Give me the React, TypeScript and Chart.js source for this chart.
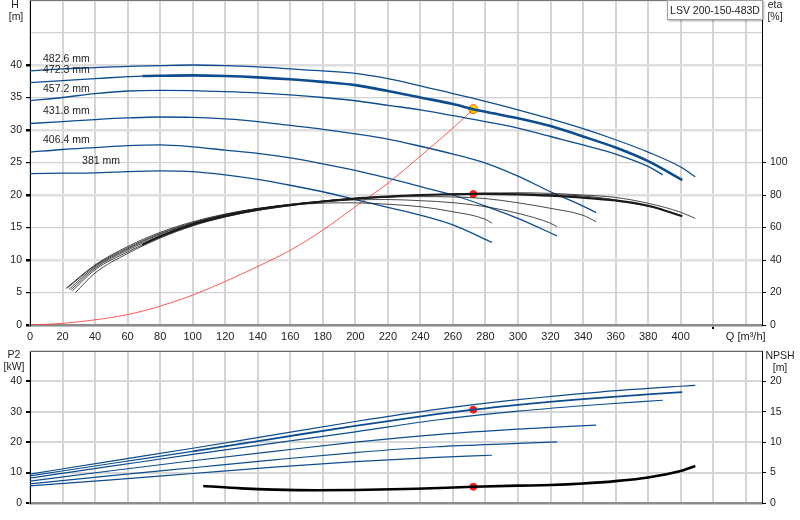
import { useEffect, useRef } from "react";
import { Chart, registerables } from "chart.js";

Chart.register(...registerables);

const FONT = '"Liberation Sans", Arial, sans-serif';
const TEXT = "#222";
const BLUE = "#0d4d8f";
const RED_LINE = "rgba(255, 60, 60, 0.85)";

// axes
const Q_TICKS = [0, 20, 40, 60, 80, 100, 120, 140, 160, 180, 200, 220, 240, 260, 280, 300, 320, 340, 360, 380, 400, 420, 440];
const Q_TICK_LABELS = ["0", "20", "40", "60", "80", "100", "120", "140", "160", "180", "200", "220", "240", "260", "280", "300", "320", "340", "360", "380", "400", "", "Q [m³/h]"];
const H_TICKS = [0, 5, 10, 15, 20, 25, 30, 35, 40, 45, 50];
const H_TICK_LABELS = ["0", "5", "10", "15", "20", "25", "30", "35", "40", "", ""];
const ETA_TICKS = [0, 20, 40, 60, 80, 100];
const P2_TICKS = [0, 10, 20, 30, 40, 50];
const P2_TICK_LABELS = ["0", "10", "20", "30", "40", ""];
const NPSH_TICKS = [0, 5, 10, 15, 20];

const DIAMETERS = ["482.6 mm", "472.3 mm", "457.2 mm", "431.8 mm", "406.4 mm", "381 mm"];
const SELECTED = 1; // 472.3 mm
const THICK_FROM_Q = 69;

// H [m] vs Q [m3/h]
const H_4826: [number, number][] = [[0, 39.1], [20, 39.4], [40, 39.6], [60, 39.8], [80, 39.9], [100, 40.0], [120, 39.9], [140, 39.7], [160, 39.4], [180, 39.1], [200, 38.7], [220, 37.9], [240, 36.8], [260, 35.6], [280, 34.4], [300, 33.1], [320, 31.7], [340, 30.2], [360, 28.5], [380, 26.6], [400, 24.3], [409, 22.8]];
const H_4723: [number, number][] = [[0, 37.3], [20, 37.6], [40, 37.9], [60, 38.2], [69, 38.3], [80, 38.35], [100, 38.4], [120, 38.3], [140, 38.1], [160, 37.8], [180, 37.4], [200, 36.9], [220, 36.0], [240, 35.0], [260, 34.0], [272.5, 33.2], [280, 32.8], [300, 31.8], [320, 30.6], [340, 29.0], [360, 27.3], [380, 25.2], [401, 22.3]];
const H_4572: [number, number][] = [[0, 34.5], [20, 35.0], [40, 35.6], [60, 36.0], [80, 36.1], [100, 36.05], [120, 35.9], [140, 35.7], [160, 35.4], [180, 35.0], [200, 34.5], [220, 33.8], [240, 33.1], [260, 32.2], [280, 31.3], [300, 30.3], [320, 29.0], [340, 27.7], [360, 26.3], [380, 24.4], [389, 23.1]];
const H_4318: [number, number][] = [[0, 31.0], [20, 31.3], [40, 31.6], [60, 31.85], [80, 32.0], [100, 31.95], [120, 31.7], [140, 31.3], [160, 30.7], [180, 30.1], [200, 29.4], [220, 28.6], [240, 27.5], [260, 26.3], [280, 24.9], [300, 22.9], [320, 20.5], [340, 18.3], [348, 17.3]];
const H_4064: [number, number][] = [[0, 26.6], [20, 27.0], [40, 27.3], [60, 27.6], [80, 27.7], [100, 27.4], [120, 26.9], [140, 26.4], [160, 25.7], [180, 24.8], [200, 23.8], [220, 22.6], [240, 21.3], [260, 20.0], [280, 18.3], [300, 16.4], [324, 13.7]];
const H_381: [number, number][] = [[0, 23.3], [20, 23.35], [40, 23.4], [60, 23.6], [80, 23.7], [100, 23.6], [120, 23.1], [140, 22.4], [160, 21.5], [180, 20.5], [200, 19.3], [220, 18.1], [240, 16.9], [260, 15.4], [284, 12.7]];

// eta [%] vs Q
const ETA_4826: [number, number][] = [[28, 20], [40, 32], [60, 44], [80, 53.5], [100, 61], [120, 66.5], [140, 70.5], [160, 73.5], [180, 75.8], [200, 77.6], [220, 79], [240, 80], [260, 80.7], [280, 81.2], [300, 81.4], [320, 81], [340, 80], [360, 78.5], [380, 74.9], [400, 69.4], [409, 65.6]];
const ETA_4723: [number, number][] = [[26, 21], [40, 34], [60, 45], [69, 49.3], [80, 54.5], [100, 61.8], [120, 67], [140, 71], [160, 73.8], [180, 76], [200, 77.8], [220, 79], [240, 80], [260, 80.4], [272.5, 80.6], [280, 80.7], [300, 80.4], [320, 79.6], [340, 78.4], [360, 76.6], [380, 73.4], [401, 67]];
const ETA_4572: [number, number][] = [[25, 21.5], [40, 35], [60, 46], [80, 55], [100, 62.3], [120, 67.5], [140, 71.4], [160, 74], [180, 76.2], [200, 78], [220, 79.2], [240, 80], [260, 80.4], [280, 80.6], [300, 80.6], [320, 80.2], [340, 79.4], [360, 77], [380, 73], [389, 71.2]];
const ETA_4318: [number, number][] = [[24, 22], [40, 35.8], [60, 46.8], [80, 55.8], [100, 62.6], [120, 67.8], [140, 71.6], [160, 74.3], [180, 76.3], [200, 77.8], [220, 78.7], [240, 79], [260, 78.8], [280, 77.8], [300, 75.2], [320, 71.8], [340, 67.5], [348, 63.6]];
const ETA_4064: [number, number][] = [[23, 22.8], [40, 36.5], [60, 47.5], [80, 56.3], [100, 63], [120, 68], [140, 71.7], [160, 74.2], [180, 76], [200, 77], [220, 77.2], [240, 76.5], [260, 75.3], [280, 72.8], [300, 68.7], [320, 62.6], [324, 60.5]];
const ETA_381: [number, number][] = [[22, 22.5], [40, 37], [60, 48.3], [80, 57], [100, 63.5], [120, 68.3], [140, 71.7], [160, 73.8], [180, 75], [200, 75.2], [220, 74.3], [240, 72.8], [260, 69.7], [280, 65], [284, 62.6]];

// P2 [kW] vs Q
const P2_4826: [number, number][] = [[0, 9.5], [50, 13.8], [100, 18.0], [150, 22.4], [200, 26.8], [250, 30.8], [300, 34.0], [350, 36.5], [400, 38.4], [409, 38.7]];
const P2_4723: [number, number][] = [[0, 8.9], [50, 13.0], [100, 17.0], [150, 21.2], [200, 25.4], [250, 29.2], [272.5, 30.7], [300, 32.3], [350, 34.6], [401, 36.5]];
const P2_4572: [number, number][] = [[0, 8.2], [50, 12.1], [100, 16.0], [150, 19.7], [200, 23.4], [250, 27.3], [300, 30.2], [350, 32.4], [389, 33.8]];
const P2_4318: [number, number][] = [[0, 7.2], [50, 10.6], [100, 13.9], [150, 17.0], [200, 20.0], [250, 22.5], [300, 24.3], [348, 25.6]];
const P2_4064: [number, number][] = [[0, 6.3], [50, 9.0], [100, 11.6], [150, 14.2], [200, 16.6], [250, 18.5], [300, 19.6], [324, 20.1]];
const P2_381: [number, number][] = [[0, 5.6], [50, 7.6], [100, 9.7], [150, 11.8], [200, 13.6], [250, 15.0], [284, 15.7]];

// NPSH [m] vs Q
const NPSH: [number, number][] = [[106.5, 2.8], [130, 2.4], [150, 2.2], [176, 2.1], [200, 2.15], [237.6, 2.35], [272.5, 2.67], [300, 2.85], [320, 2.95], [340, 3.2], [360, 3.6], [380, 4.2], [400, 5.25], [409, 6.07]];

// system curve
const SYSTEM: [number, number][] = [[0, 0], [20, 0.25], [40, 0.8], [60, 1.6], [80, 2.9], [100, 4.6], [120, 6.7], [140, 9.0], [160, 11.5], [180, 14.6], [200, 18.2], [220, 21.8], [240, 26.0], [260, 30.3], [272.5, 33.2]];

// duty point
const Q_DUTY = 272.5;
const H_DUTY = 33.2;
const ETA_DUTY = 80.6;
const P2_DUTY = 30.7;
const NPSH_DUTY = 2.67;

const H_CURVES = [H_4826, H_4723, H_4572, H_4318, H_4064, H_381];
const ETA_CURVES = [ETA_4826, ETA_4723, ETA_4572, ETA_4318, ETA_4064, ETA_381];
const P2_CURVES = [P2_4826, P2_4723, P2_4572, P2_4318, P2_4064, P2_381];

const pts = (a: [number, number][]) => a.map(([x, y]) => ({ x, y }));

const font = (size: number) => ({ family: FONT, size });

const fixTicks = (values: number[]) => (s: any) => {
  s.ticks = values.map((v) => ({ value: v }));
};

function curve(data: [number, number][], axis: string, color: string, width: number, thick?: number) {
  return {
    data: pts(data),
    yAxisID: axis,
    borderColor: color,
    borderWidth: width,
    pointRadius: 0,
    fill: false,
    cubicInterpolationMode: "monotone" as const,
    segment: thick
      ? { borderWidth: (c: any) => (c.p0.parsed.x >= THICK_FROM_Q ? thick : width) }
      : undefined,
  };
}

function dot(x: number, y: number, axis: string, fillColor: string, border: string, r: number) {
  return {
    data: [{ x, y }],
    yAxisID: axis,
    showLine: false,
    pointRadius: r,
    pointBackgroundColor: fillColor,
    pointBorderColor: border,
    pointBorderWidth: 1,
  };
}

const qScale = (height: number, labels: boolean) => ({
  type: "linear" as const,
  min: 0,
  max: 450,
  afterBuildTicks: fixTicks(Q_TICKS),
  afterFit: (s: any) => {
    s.height = height;
    s.paddingLeft = 0;
    s.paddingRight = 0;
  },
  grid: {
    color: "#d4d4d4",
    lineWidth: 2,
    drawTicks: labels,
    tickLength: 4,
    tickColor: (c: any) => (c.tick && c.tick.value === 420 ? "#000" : "rgba(0,0,0,0)"),
  },
  border: { color: "#8c8c8c", width: 2.5 },
  ticks: {
    display: labels,
    autoSkip: false,
    maxRotation: 0,
    padding: 1,
    color: TEXT,
    font: font(11),
    callback: (_v: any, i: number) => Q_TICK_LABELS[i],
  },
});

const sideAxis = (
  position: "left" | "right",
  max: number,
  ticks: number[],
  width: number,
  onArea: boolean,
  labelOf: (v: number, i: number) => string,
  visibleMax: number,
  gridColor?: (c: any) => string,
  gridWidth?: (c: any) => number,
) => ({
  type: "linear" as const,
  position,
  min: 0,
  max,
  afterBuildTicks: fixTicks(ticks),
  afterFit: (s: any) => {
    s.width = width;
    s.paddingTop = 0;
    s.paddingBottom = 0;
  },
  grid: {
    drawOnChartArea: onArea,
    color: gridColor || "#d4d4d4",
    lineWidth: gridWidth || 1,
    tickLength: 4,
    tickColor: (c: any) => (c.tick && c.tick.value <= visibleMax ? "#000" : "rgba(0,0,0,0)"),
  },
  border: { color: "#000", width: 1 },
  ticks: {
    padding: 4,
    color: TEXT,
    font: font(10.5),
    callback: (v: any, i: number) => labelOf(v, i),
  },
});

const topText = {
  id: "topText",
  afterDatasetsDraw(chart: any) {
    const { ctx, chartArea, scales } = chart;
    ctx.save();
    ctx.strokeStyle = "#777";
    ctx.lineWidth = 1;
    ctx.beginPath();
    ctx.moveTo(chartArea.left, chartArea.top + 0.5);
    ctx.lineTo(chartArea.right, chartArea.top + 0.5);
    ctx.stroke();
    ctx.font = `10.5px ${FONT}`;
    ctx.fillStyle = TEXT;
    ctx.textBaseline = "middle";
    ctx.textAlign = "left";
    DIAMETERS.forEach((d, i) => {
      const first = H_CURVES[i][0];
      const x = scales.x.getPixelForValue(i === DIAMETERS.length - 1 ? 32 : 8);
      const y = scales.y.getPixelForValue(first[1]) - 12;
      ctx.fillText(d, x, y);
    });
    ctx.textAlign = "center";
    ctx.fillText("H", 15, 5);
    ctx.fillText("[m]", 16, 17);
    ctx.fillText("eta", 775, 5);
    ctx.fillText("[%]", 775, 17);
    ctx.restore();
  },
};

const bottomText = {
  id: "bottomText",
  afterDatasetsDraw(chart: any) {
    const { ctx, chartArea } = chart;
    ctx.save();
    ctx.strokeStyle = "#666";
    ctx.lineWidth = 1;
    ctx.beginPath();
    ctx.moveTo(chartArea.left, chartArea.top + 0.5);
    ctx.lineTo(chartArea.right, chartArea.top + 0.5);
    ctx.stroke();
    ctx.font = `10.5px ${FONT}`;
    ctx.fillStyle = TEXT;
    ctx.textBaseline = "middle";
    ctx.textAlign = "center";
    ctx.fillText("P2", 14, 15);
    ctx.fillText("[kW]", 14, 27);
    ctx.fillText("NPSH", 780, 16);
    ctx.fillText("[m]", 780, 28);
    ctx.restore();
  },
};

export default function App() {
  const topRef = useRef<HTMLCanvasElement>(null);
  const bottomRef = useRef<HTMLCanvasElement>(null);

  useEffect(() => {
    if (!topRef.current || !bottomRef.current) return;

    const hDatasets = H_CURVES.map((c, i) =>
      curve(c, "y", BLUE, 1.3, i === SELECTED ? 2.6 : undefined),
    );
    const etaDatasets = ETA_CURVES.map((c, i) =>
      curve(c, "y2", "#1a1a1a", 0.8, i === SELECTED ? 2.2 : undefined),
    );
    const p2Datasets = P2_CURVES.map((c, i) =>
      curve(c, "y", BLUE, 1.2, i === SELECTED ? 1.8 : undefined),
    );

    const top = new Chart(topRef.current, {
      type: "line",
      data: {
        datasets: [
          ...etaDatasets,
          ...hDatasets,
          curve(SYSTEM, "y", RED_LINE, 1),
          dot(Q_DUTY, ETA_DUTY, "y2", "#ff1a1a", "#ff1a1a", 3.5),
          dot(Q_DUTY, H_DUTY, "y", "#ffd200", "#ff5a00", 4.5),
        ] as any,
      },
      options: {
        responsive: false,
        animation: false,
        events: [],
        layout: { padding: 0, autoPadding: false },
        plugins: { legend: { display: false }, tooltip: { enabled: false } },
        scales: {
          x: qScale(20, true),
          y: sideAxis(
            "left",
            50,
            H_TICKS,
            30,
            true,
            (_v, i) => H_TICK_LABELS[i],
            40,
            (c) => (c.tick.value % 10 === 0 ? "#dedede" : "#d2d2d2"),
            (c) => (c.tick.value % 10 === 0 ? 2.5 : 1.2),
          ),
          y2: sideAxis("right", 200, ETA_TICKS, 38, false, (v) => String(v), 100),
        } as any,
      },
      plugins: [topText],
    });

    const bottom = new Chart(bottomRef.current, {
      type: "line",
      data: {
        datasets: [
          ...p2Datasets,
          curve(NPSH, "y2", "#000", 2.6),
          dot(Q_DUTY, P2_DUTY, "y", "#ff1a1a", "#ff1a1a", 3.5),
          dot(Q_DUTY, NPSH_DUTY, "y2", "#ff1a1a", "#ff1a1a", 3.5),
        ] as any,
      },
      options: {
        responsive: false,
        animation: false,
        events: [],
        layout: { padding: { top: 11, left: 0, right: 0, bottom: 0 }, autoPadding: false },
        plugins: { legend: { display: false }, tooltip: { enabled: false } },
        scales: {
          x: qScale(17, false),
          y: sideAxis(
            "left",
            50,
            P2_TICKS,
            30,
            true,
            (_v, i) => P2_TICK_LABELS[i],
            40,
            () => "#d6d6d6",
            () => 2,
          ),
          y2: sideAxis("right", 25, NPSH_TICKS, 38, false, (v) => String(v), 20),
        } as any,
      },
      plugins: [bottomText],
    });

    return () => {
      top.destroy();
      bottom.destroy();
    };
  }, []);

  return (
    <div
      style={{
        position: "absolute",
        left: 0,
        top: 0,
        width: 800,
        height: 520,
        background: "#fff",
        fontFamily: FONT,
      }}
    >
      <canvas ref={topRef} width={800} height={345} style={{ position: "absolute", left: 0, top: 0 }} />
      <canvas ref={bottomRef} width={800} height={180} style={{ position: "absolute", left: 0, top: 340 }} />
      <div
        style={{
          position: "absolute",
          left: 667,
          top: 0,
          width: 96,
          height: 20,
          boxSizing: "border-box",
          border: "1px solid #a0a0a0",
          boxShadow: "1px 1px 2px rgba(0,0,0,0.35)",
          background: "#fff",
          color: TEXT,
          fontSize: 10.5,
          lineHeight: "18px",
          textAlign: "center",
          whiteSpace: "nowrap",
        }}
      >
        LSV 200-150-483D
      </div>
    </div>
  );
}
